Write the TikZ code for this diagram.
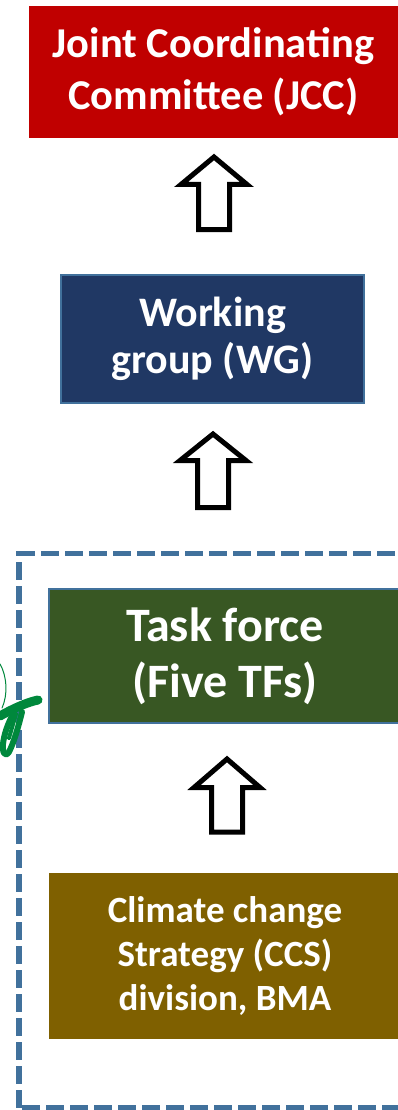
\documentclass[tikz,border=0pt]{standalone}
\usepackage{fontspec}
\setmainfont{Carlito}
\definecolor{jccred}{HTML}{C00000}
\definecolor{wgblue}{HTML}{203864}
\definecolor{tfgreen}{HTML}{385723}
\definecolor{ccsbrown}{HTML}{7F6000}
\definecolor{edgeblue}{HTML}{41719C}
\definecolor{scribble}{HTML}{00883C}
\tikzset{
  box/.style={rectangle, inner sep=0pt, outer sep=0pt, align=center, text=white},
  bluerim/.style={draw=edgeblue, line width=2pt},
  blockarrow/.style={draw=black, line width=5pt, line join=miter, fill=white},
  frame/.style={draw=edgeblue, line width=5.5pt, dash pattern=on 18pt off 6pt},
  ink/.style={draw=scribble, line cap=round, line join=round}
}
\newcommand{\uparrowblock}[4]{% cx, tip y, head base y, bottom y
  \path[blockarrow] (#1-15.5,#4) -- (#1-15.5,#3) -- (#1-33,#3) -- (#1,#2)
    -- (#1+33,#3) -- (#1+15.5,#3) -- (#1+15.5,#4) -- cycle;}
\begin{document}
\begin{tikzpicture}[x=1pt,y=-1pt]
\useasboundingbox (0,0) rectangle (398,1110);
\clip (0,0) rectangle (398,1110);
% dashed frame
\draw[frame] (19,1107.5) -- (19,553.5) -- (430,553.5);
\draw[frame] (22,1107.5) -- (430,1107.5);
% boxes
\node[box, fill=jccred, minimum width=369pt, minimum height=132pt,
  font=\fontsize{42.5}{52}\selectfont\bfseries] (jcc) at (213.5,72)
  {Joint Coordinating\\Committee (JCC)};
\node[box, bluerim, fill=wgblue, minimum width=303pt, minimum height=128pt,
  font=\fontsize{42}{47}\selectfont\bfseries] (wg) at (212.5,339)
  {Working\\group (WG)};
\node[box, bluerim, fill=tfgreen, minimum width=352pt, minimum height=134pt,
  font=\fontsize{48}{56}\selectfont\bfseries] (tf) at (225,656)
  {Task force\\(Five TFs)};
\node[box, fill=ccsbrown, minimum width=352pt, minimum height=166pt,
  font=\fontsize{37}{44}\selectfont\bfseries] (ccs) at (225,956)
  {Climate change\\Strategy (CCS)\\division, BMA};
% block arrows
\uparrowblock{214}{157}{184.5}{229.5}
\uparrowblock{213}{434}{460.5}{507.5}
\uparrowblock{227}{759}{787.5}{832}
% green scribble
\draw[ink, line width=1pt] (0,664) .. controls (7,676) and (8,695) .. (2,708);
\draw[ink, line width=9pt] (38,700) .. controls (28,702) and (14,708) .. (0,716);
\draw[ink, line width=6pt] (22,712) .. controls (18,728) and (14,742) .. (9,752)
  .. controls (5,758) and (2,752) .. (3,744) .. controls (4,734) and (8,724) .. (12,716);
\draw[ink, line width=4pt] (16,714) -- (9,738);
\end{tikzpicture}
\end{document}
